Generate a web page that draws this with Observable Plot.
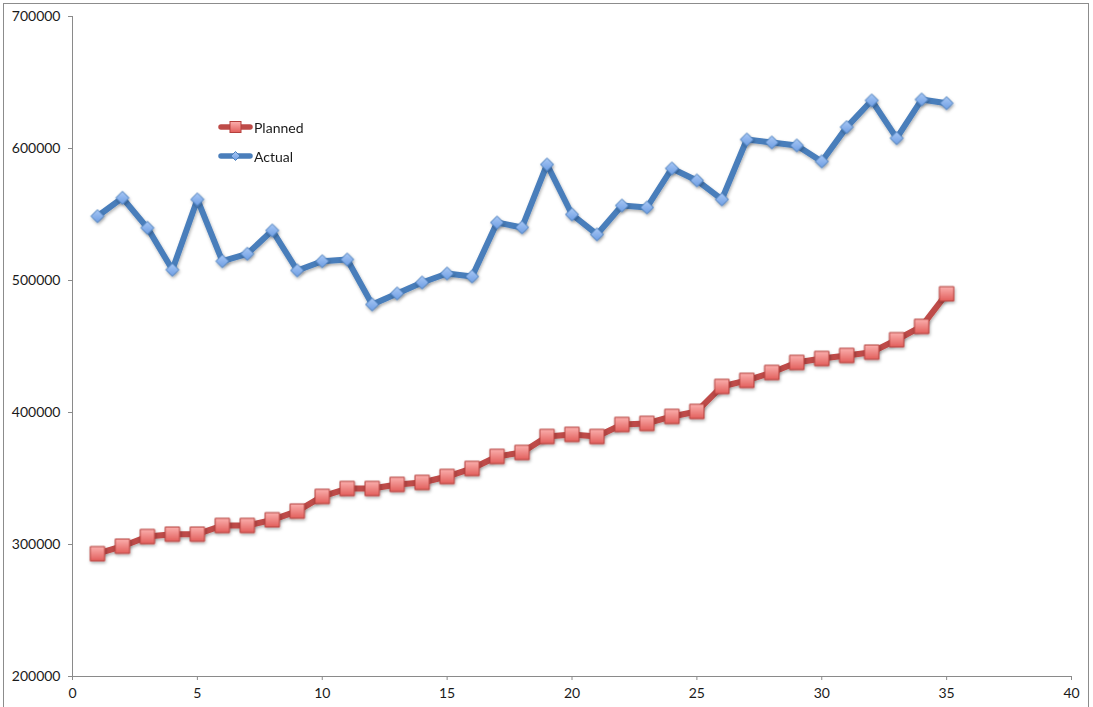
<!DOCTYPE html>
<html>
<head>
<meta charset="utf-8">
<script src="https://cdn.jsdelivr.net/npm/d3@7"></script>
<script src="https://cdn.jsdelivr.net/npm/@observablehq/plot@0.6"></script>
<style>
  body { margin: 0; background: #fff; font-family: Lato, "Open Sans", sans-serif; }
  #wrap { position: relative; width: 1093px; height: 707px; overflow: hidden; background: #fff; }
  #border { position: absolute; left: 3px; top: 3px; width: 1086px; height: 730px; border: 1px solid #8c8c8c; box-sizing: border-box; }
  #chart { position: absolute; left: 0; top: 0; }
  #legend { position: absolute; left: 218px; top: 116px; font-size: 14px; color: #1a1a1a; }
  #legend .row { display: flex; align-items: center; height: 22px; margin-bottom: 7px; }
  #legend svg { display: block; margin-right: 1px; }
</style>
</head>
<body>
<div id="wrap">
  <div id="border"></div>
  <div id="chart"></div>
  <div id="legend"></div>
</div>
<script>
// Period numbers (x) and the two series
const periods = [1,2,3,4,5,6,7,8,9,10,11,12,13,14,15,16,17,18,19,20,21,22,23,24,25,26,27,28,29,30,31,32,33,34,35];

const planned = [
  293000, 298700, 306000, 307800, 307800, 314400, 314400, 318700, 325300, 336400,
  342400, 342400, 345500, 347000, 351500, 357600, 366700, 369700, 381800, 383400,
  381800, 390900, 391700, 397000, 400800, 419700, 424300, 430300, 437900, 440900,
  443200, 445700, 455100, 465200, 489900
];

const actual = [
  548700, 562600, 539900, 508100, 561400, 514600, 520200, 537900, 507600, 514600,
  515900, 481800, 490200, 498500, 505300, 503000, 543900, 540200, 587900, 550000,
  534900, 556800, 555300, 584900, 575800, 561400, 606800, 604600, 602300, 590200,
  616200, 636400, 607800, 637100, 634300
];

const seriesNames = ["Planned", "Actual"];
const xTicks = [0, 5, 10, 15, 20, 25, 30, 35, 40];
const yTicks = [200000, 300000, 400000, 500000, 600000, 700000];

const plannedRows = periods.map((p, i) => ({period: p, value: planned[i]}));
const actualRows = periods.map((p, i) => ({period: p, value: actual[i]}));

const RED_LINE = "#BE4B48", RED_EDGE = "#B5403D";
const BLUE_LINE = "#4A7EBB", BLUE_EDGE = "#4A7EBB";
const AXIS = "#8a8a8a";
const FONT = "Lato, 'Open Sans', sans-serif";

const chart = Plot.plot({
  width: 1093,
  height: 707,
  marginLeft: 72,
  marginRight: 22,
  marginTop: 16,
  marginBottom: 31,
  x: {domain: [0, 40]},
  y: {domain: [200000, 700000]},
  style: {fontFamily: FONT, fontSize: "14px", color: "#1a1a1a", background: "transparent", overflow: "visible"},
  marks: [
    Plot.ruleX([0], {stroke: AXIS}),
    Plot.ruleY([200000], {stroke: AXIS}),
    Plot.axisX({ticks: xTicks, tickSize: 4, tickPadding: 8, stroke: AXIS, fill: "#1a1a1a", label: null, fontSize: 14}),
    Plot.axisY({ticks: yTicks, tickSize: 4, tickPadding: 8, stroke: AXIS, fill: "#1a1a1a", label: null, fontSize: 14, tickFormat: d3.format("d")}),
    Plot.line(actualRows, {x: "period", y: "value", stroke: BLUE_LINE, strokeWidth: 6, strokeLinejoin: "round"}),
    Plot.line(plannedRows, {x: "period", y: "value", stroke: RED_LINE, strokeWidth: 6, strokeLinejoin: "round"}),
    Plot.dot(actualRows, {x: "period", y: "value", symbol: "diamond2", r: 5.9, fill: "url(#gradBlue)", stroke: BLUE_EDGE, strokeWidth: 1}),
    Plot.dot(plannedRows, {x: "period", y: "value", symbol: "square", r: 8.1, fill: "url(#gradRed)", stroke: RED_EDGE, strokeWidth: 1})
  ]
});

// Gradient fills and a soft shadow for the markers
const svg = d3.select(chart);
const defs = svg.insert("defs", ":first-child");
function grad(id, top, bottom) {
  const g = defs.append("linearGradient").attr("id", id).attr("x1", 0).attr("y1", 0).attr("x2", 0).attr("y2", 1);
  g.append("stop").attr("offset", "0%").attr("stop-color", top);
  g.append("stop").attr("offset", "100%").attr("stop-color", bottom);
}
grad("gradRed", "#FBB0AE", "#E25E5B");
grad("gradBlue", "#A9C8F5", "#6D9DE3");
const sh = defs.append("filter").attr("id", "shadow").attr("x", "-50%").attr("y", "-50%").attr("width", "200%").attr("height", "200%");
sh.append("feDropShadow").attr("dx", 0.8).attr("dy", 1.8).attr("stdDeviation", 1.4).attr("flood-color", "#000").attr("flood-opacity", 0.3);
svg.selectAll('g[aria-label="dot"]').attr("filter", "url(#shadow)");
svg.selectAll('g[aria-label="line"]').attr("filter", "url(#shadow)");

document.getElementById("chart").appendChild(chart);

// Legend: line sample with marker, then series name
const legend = d3.select("#legend");
const legendStyles = {
  Planned: {line: RED_LINE, edge: RED_EDGE, fill: "url(#lgRed)", shape: "square"},
  Actual: {line: BLUE_LINE, edge: BLUE_EDGE, fill: "url(#lgBlue)", shape: "diamond"}
};
seriesNames.forEach((name, i) => {
  const s = legendStyles[name];
  const row = legend.append("div").attr("class", "row");
  const sv = row.append("svg").attr("width", 35).attr("height", 22);
  const d = sv.append("defs").append("linearGradient").attr("id", name === "Planned" ? "lgRed" : "lgBlue")
    .attr("x1", 0).attr("y1", 0).attr("x2", 0).attr("y2", 1);
  d.append("stop").attr("offset", "0%").attr("stop-color", name === "Planned" ? "#FBB0AE" : "#A9C8F5");
  d.append("stop").attr("offset", "100%").attr("stop-color", name === "Planned" ? "#E25E5B" : "#6D9DE3");
  sv.append("line").attr("x1", 3).attr("x2", 32).attr("y1", 11).attr("y2", 11)
    .attr("stroke", s.line).attr("stroke-width", 5.5).attr("stroke-linecap", "round");
  if (s.shape === "square") {
    sv.append("rect").attr("x", 12).attr("y", 5.5).attr("width", 11).attr("height", 11)
      .attr("fill", s.fill).attr("stroke", s.edge).attr("stroke-width", 1);
  } else {
    sv.append("path").attr("d", "M17.5,6.5 L22,11 L17.5,15.5 L13,11 Z")
      .attr("fill", s.fill).attr("stroke", s.edge).attr("stroke-width", 1);
  }
  row.append("span").text(name);
});
</script>
</body>
</html>
